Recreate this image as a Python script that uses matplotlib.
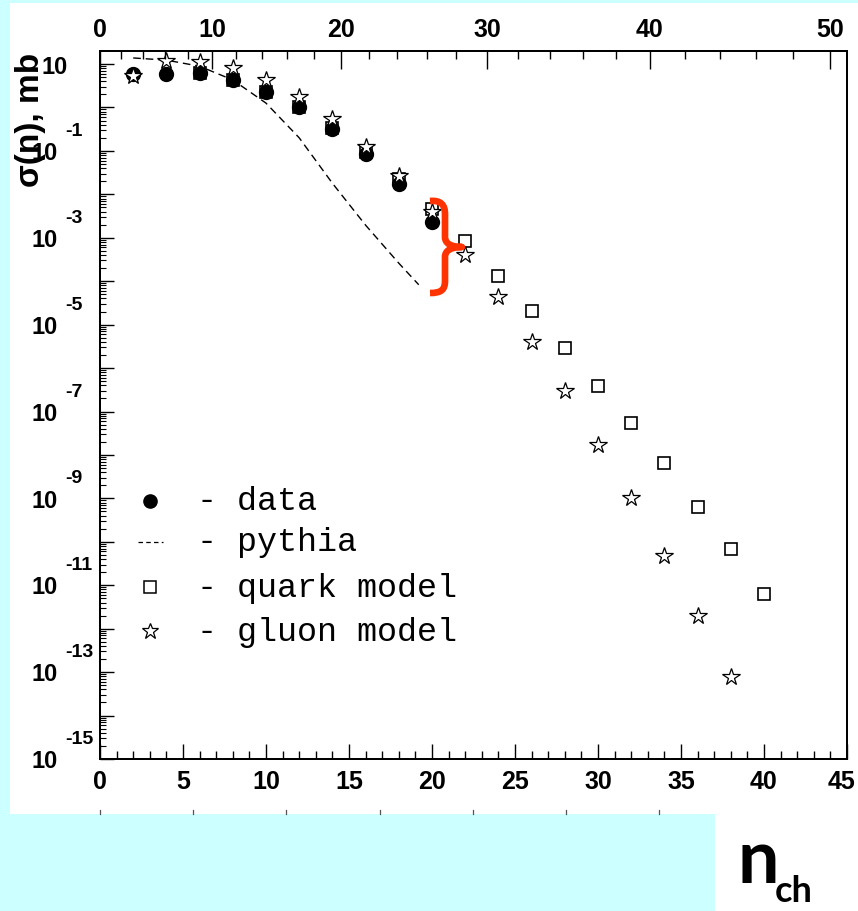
import numpy as np
import matplotlib
matplotlib.use("Agg")
import matplotlib.pyplot as plt
from matplotlib.patches import Rectangle, PathPatch
from matplotlib.path import Path
from matplotlib.lines import Line2D

# ---------------- data ----------------
N_DATA = [2, 4, 6, 8, 10, 12, 14, 16, 18, 20]
SIGMA_DATA = [5.9, 5.9, 6.2, 4.3, 2.27, 1.03, 0.32, 0.086, 0.0175, 0.0023]

N_PYTHIA = [2, 4, 6, 8, 10, 12, 14, 16, 18, 19.2]
SIGMA_PYTHIA = [13.8, 12.3, 8.9, 4.3, 1.26, 0.20, 0.018, 1.95e-3, 2.6e-4, 8.3e-5]

N_QUARK = [6, 8, 10, 12, 14, 16, 18, 20, 22, 24, 26, 28, 30, 32, 34, 36, 38, 40]
SIGMA_QUARK = [6.2, 4.3, 2.27, 1.03, 0.338, 0.095, 0.0227, 4.6e-3, 8.5e-4,
               1.34e-4, 2.1e-5, 2.96e-6, 3.96e-7, 5.3e-8, 6.4e-9, 6.5e-10,
               6.8e-11, 6.2e-12]

N_GLUON = [2, 4, 6, 8, 10, 12, 14, 16, 18, 20, 22, 24, 26, 28, 30, 32, 34, 36, 38]
SIGMA_GLUON = [5.2, 11.7, 11.2, 8.1, 4.3, 1.74, 0.55, 0.123, 0.027, 4.0e-3,
               4.1e-4, 4.4e-5, 3.9e-6, 2.9e-7, 1.74e-8, 1.0e-9, 4.7e-11,
               2.0e-12, 7.8e-14]

X_TICKS = [0, 5, 10, 15, 20, 25, 30, 35, 40, 45]
TOP_TICKS = [0, 10, 20, 30, 40, 50]
Y_LABEL_EXP = [1, -1, -3, -5, -7, -9, -11, -13, -15]
LEGEND_LABELS = ["- data", "- pythia", "- quark model", "- gluon model"]

# ---------------- figure ----------------
W, H = 858, 912
CYAN = "#CCFFFF"
fig = plt.figure(figsize=(W / 100, H / 100), dpi=100)
fig.patch.set_facecolor(CYAN)

def fr(px, py):
    return px / W, 1 - py / H

# white panels
fig.patches.append(Rectangle(fr(10, 815), 848 / W, 811 / H, transform=fig.transFigure,
                             facecolor="white", edgecolor="none", zorder=-5))
fig.patches.append(Rectangle(fr(715, 912), 143 / W, 97 / H, transform=fig.transFigure,
                             facecolor="white", edgecolor="none", zorder=-5))
# faint ticks on panel edge
for k in range(7):
    xp = 100 + k * 93.2
    fig.add_artist(Line2D([xp / W, xp / W], [1 - 811 / H, 1 - 815 / H],
                          transform=fig.transFigure, color="#555555", lw=0.9,
                          zorder=-4))

AX_L, AX_R, AX_T, AX_B = 100, 847, 52, 760
ax = fig.add_axes([AX_L / W, 1 - AX_B / H, (AX_R - AX_L) / W, (AX_B - AX_T) / H])
ax.set_facecolor("white")
ax.set_xlim(0, 45)
ax.set_yscale("log")
ax.set_ylim(1e-15, 10 ** 1.3)

for s in ax.spines.values():
    s.set_linewidth(1.4)
    s.set_color("black")

TICKFONT = dict(family="Liberation Sans", weight="bold", size=18)

# bottom axis (last label drawn separately so it stays inside the image)
ax.set_xticks(X_TICKS)
ax.set_xticks(np.arange(0, 46, 1), minor=True)
ax.set_xticklabels([str(v) for v in X_TICKS[:-1]] + [""], fontdict=TICKFONT)
ax.annotate(str(X_TICKS[-1]), xy=(X_TICKS[-1], 0), xycoords=ax.get_xaxis_transform(),
            xytext=(-4, -7), textcoords="offset points", ha="center", va="top",
            annotation_clip=False, **TICKFONT)
ax.tick_params(axis="x", which="major", direction="in", length=11, width=1.0, pad=7,
               top=False, bottom=True)
ax.tick_params(axis="x", which="minor", direction="in", length=5.5, width=1.0,
               top=False, bottom=True)

# left axis (log)
ax.yaxis.set_major_locator(matplotlib.ticker.LogLocator(base=10, numticks=40))
ax.yaxis.set_minor_locator(matplotlib.ticker.LogLocator(base=10, subs=np.arange(2, 10),
                                                        numticks=40))
ax.yaxis.set_major_formatter(matplotlib.ticker.NullFormatter())
ax.yaxis.set_minor_formatter(matplotlib.ticker.NullFormatter())
ax.tick_params(axis="y", which="major", direction="in", length=10, width=1.0,
               left=True, right=False)
ax.tick_params(axis="y", which="minor", direction="in", length=4.3, width=0.8,
               left=True, right=False)

# top axis: non-linear scale
TA, TB = 10.35 / 16.6, 0.085 / 16.6
def top_to_bottom(t):
    t = np.asarray(t, dtype=float)
    return TA * t + TB * t ** 2

ax2 = ax.twiny()
ax2.set_xlim(ax.get_xlim())
ax2.set_xticks(top_to_bottom(TOP_TICKS))
ax2.set_xticks(top_to_bottom(np.arange(0, 51, 2)), minor=True)
ax2.set_xticklabels([str(v) for v in TOP_TICKS], fontdict=TICKFONT)
ax2.tick_params(axis="x", which="major", direction="in", length=13, width=1.0, pad=7)
ax2.tick_params(axis="x", which="minor", direction="in", length=6, width=1.0)
for s in ax2.spines.values():
    s.set_linewidth(1.4)

# y tick labels "10" with exponent
ytr = ax.get_yaxis_transform()
for e in Y_LABEL_EXP:
    if e == 1:
        ax.text((68 - AX_L) / (AX_R - AX_L), 10 ** (e - 0.06), "10", transform=ytr,
                ha="right", va="center", family="Liberation Sans", weight="bold",
                size=17, clip_on=False)
    else:
        ax.text((58 - AX_L) / (AX_R - AX_L), 10 ** (e - 0.04), "10", transform=ytr,
                ha="right", va="center", family="Liberation Sans", weight="bold",
                size=17, clip_on=False)
        ax.text((65 - AX_L) / (AX_R - AX_L), 10 ** (e + 0.47), str(e), transform=ytr,
                ha="left", va="center", family="Liberation Sans", weight="bold",
                size=14, clip_on=False)

fig.text(31 / W, 1 - 120 / H, "σ(n), mb", rotation=90, ha="center", va="center",
         family=["Liberation Sans", "DejaVu Sans"], weight="bold", size=24)

# ---------------- series ----------------
ax.plot(N_PYTHIA, SIGMA_PYTHIA, color="black", lw=1.0, dashes=(5.5, 3.5), zorder=2)
ax.plot(N_QUARK, SIGMA_QUARK, ls="none", marker="s", ms=9.3, mfc="white", mec="black",
        mew=1.2, zorder=3)
ax.plot(N_DATA, SIGMA_DATA, ls="none", marker="o", ms=10, mfc="black", mec="black",
        zorder=4)
ax.plot(N_GLUON, SIGMA_GLUON, ls="none", marker="*", ms=13, mfc="white", mec="black",
        mew=0.9, zorder=5)

# ---------------- legend (manual) ----------------
def pa(px, py):
    return (px - AX_L) / (AX_R - AX_L), (AX_B - py) / (AX_B - AX_T)

LEG_Y = [502, 543, 588, 632]
for i, lab in enumerate(LEGEND_LABELS):
    mx, my = pa(150, LEG_Y[i])
    if i == 0:
        ax.plot([mx], [my], transform=ax.transAxes, marker="o", ms=9.5, color="black",
                ls="none", clip_on=False)
    elif i == 1:
        x0, _ = pa(138, 0)
        x1, _ = pa(163, 0)
        ax.plot([x0, x1], [my, my], transform=ax.transAxes, color="black", lw=0.9,
                dashes=(3.6, 2.6), clip_on=False)
    elif i == 2:
        ax.plot([mx], [my], transform=ax.transAxes, marker="s", ms=8.5, mfc="white",
                mec="black", mew=1.1, ls="none", clip_on=False)
    else:
        ax.plot([mx], [my], transform=ax.transAxes, marker="*", ms=12, mfc="white",
                mec="black", mew=0.9, ls="none", clip_on=False)
    tx, ty = pa(197, LEG_Y[i])
    ax.text(tx, ty, lab, transform=ax.transAxes, ha="left", va="center",
            family="Liberation Mono", size=24)

# ---------------- red brace ----------------
bp = [(430, 202), (441, 201), (445, 206), (445, 215),
      (445, 238),
      (445, 245), (452, 248), (462, 248),
      (452, 248), (445, 251), (445, 258),
      (445, 282),
      (445, 291), (441, 294), (430, 294)]
codes = [Path.MOVETO, Path.CURVE4, Path.CURVE4, Path.CURVE4,
         Path.LINETO,
         Path.CURVE4, Path.CURVE4, Path.CURVE4,
         Path.CURVE4, Path.CURVE4, Path.CURVE4,
         Path.LINETO,
         Path.CURVE4, Path.CURVE4, Path.CURVE4]
verts = [pa(x, y) for x, y in bp]
ax.add_patch(PathPatch(Path(verts, codes), transform=ax.transAxes, facecolor="none",
                       edgecolor="#FF3300", lw=4.8, capstyle="butt", joinstyle="round",
                       zorder=6, clip_on=False))

# ---------------- n_ch label ----------------
fig.text(738 / W, 1 - 883 / H, "n", ha="left", va="baseline", family="Lato",
         weight="bold", size=53)
fig.text(775 / W, 1 - 902 / H, "ch", ha="left", va="baseline", family="Lato",
         weight="bold", size=26)

fig.savefig("out.png", dpi=100, facecolor=fig.get_facecolor())
